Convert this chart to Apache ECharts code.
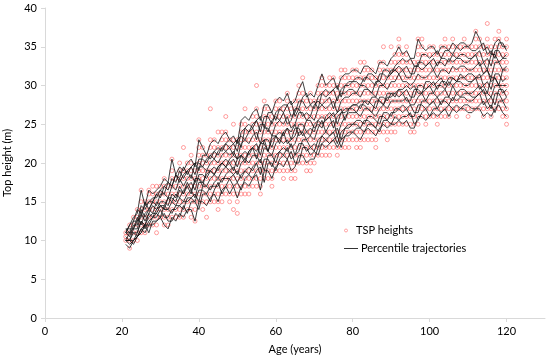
<!DOCTYPE html>
<html>
<head>
<meta charset="utf-8">
<script src="https://cdn.jsdelivr.net/npm/echarts@6/dist/echarts.min.js"></script>
<style>html,body{margin:0;padding:0;background:#fff}#c{width:550px;height:361px}</style>
</head>
<body>
<div id="c"></div>
<script>
// ---- data ----
const ages = [21,22,23,24,25,26,27,28,29,30,31,32,33,34,35,36,37,38,39,40,41,42,43,44,45,46,47,48,49,50,51,52,53,54,55,56,57,58,59,60,61,62,63,64,65,66,67,68,69,70,71,72,73,74,75,76,77,78,79,80,81,82,83,84,85,86,87,88,89,90,91,92,93,94,95,96,97,98,99,100,101,102,103,104,105,106,107,108,109,110,111,112,113,114,115,116,117,118,119,120];
const xTicks = [0,20,40,60,80,100,120];
const yTicks = [0,5,10,15,20,25,30,35,40];

// TSP heights observed at each age (same order as ages)
const tspHeights = [
[10,10.5,11],[9,10,11,12],[10,11,12,13],[10,11,12,13,14],[11,12,13,14,15,16.5],[11,12,13,14,15],[12,13,14,15,16,16.5],[12,13,14,15,16,17],[11,12,13,14,15,16,17],[13,14,15,16,17],
[12,13,14,15,16,17,18],[12,13,14,15,16,17],[13,14,15,16,17,18,19,20.5],[13,14,15,16,17,18],[13,14,15,16,17,18,19,20],[13,14,15,16,17,18,19,22],[14,15,16,17,18,19,20],[13,14,15,16,17,18,19,20,21],[12.5,14,15,16,17,18,19],[15,16,17,18,19,20,21,22,23],
[14,15,16,17,18,19,20,21,22],[13,15,16,17,18,19,20,21],[15,16,17,18,19,20,21,22,23,27],[15,16,17,18,19,20,21,22,23],[14,15,16,17,18,19,20,21,22,24],[15,16,17,18,19,20,21,22,23,24],[16,17,18,19,20,21,22,23,24,26],[15,16,17,18,19,20,21,22,23],[14,16,17,18,19,20,21,22,23,25],[13.5,15,16,17,18,19,20,21,22,23],
[16,17,18,19,20,21,22,23,24,25],[16,17,18,19,20,21,22,23,24,25,27],[16,17,18,19,20,21,22,23,24],[17,18,19,20,21,22,23,24,25,26],[17,18,19,20,21,22,23,24,25,26,27,30],[16,17,18,19,20,21,22,23,24,25],[18,19,20,21,22,23,24,25,26,27,28],[18,19,20,21,22,23,24,25,26,27],[17,18,19,20,21,22,23,24,25,26],[19,20,21,22,23,24,25,26,27,28],
[19,20,21,22,23,24,25,26,27,28],[18,19,20,21,22,23,24,25,26,27],[19,20,21,22,23,24,25,26,27,28,29],[18,19,20,21,22,23,24,25,26,27],[18,19,20,21,22,23,24,25,26,27,28],[20,21,22,23,24,25,26,27,28,29,30],[20,21,22,23,24,25,26,27,28,29,31],[19,20,21,22,23,24,25,26,27,28],[19,20,21,22,23,24,25,26,27,28,29],[20,21,22,23,24,25,26,27,28],
[21,22,23,24,25,26,27,28,29,30],[21,22,23,24,25,26,27,28,29,30,31],[21,22,23,24,25,26,27,28,29,30],[21,22,23,24,25,26,27,28,29,30,31],[22,23,24,25,26,27,28,29,30,31],[21,22,23,24,25,26,27,28,29,30],[22,23,24,25,26,27,28,29,30,31,32],[22,23,24,25,26,27,28,29,30,31,32],[22,23,24,25,26,27,28,29,30,31],[23,24,25,26,27,28,29,30,31,32],
[22,23,24,25,26,27,28,29,30,31,32],[22,23,24,25,26,27,28,29,30,31,33],[23,24,25,26,27,28,29,30,31,32,33],[23,24,25,26,27,28,29,30,31,32],[23,24,25,26,27,28,29,30,31,32],[22,23,24,25,26,27,28,29,30,31],[24,25,26,27,28,29,30,31,32,33],[24,25,26,27,28,29,30,31,32,33,35],[23,24,25,26,27,28,29,30,31,32],[24,25,26,27,28,29,30,31,32,33,35],
[24,25,26,27,28,29,30,31,32,33,34],[25,26,27,28,29,30,31,32,33,34,35,36],[25,26,27,28,29,30,31,32,33,34],[25,26,27,28,29,30,31,32,33,34,35],[24,25,26,27,28,29,30,31,32,33],[24,25,26,27,28,29,30,31,32,33],[25,26,27,28,29,30,31,32,33,34,35,36],[26,27,28,29,30,31,32,33,34,35,36],[25,26,27,28,29,30,31,32,33,34],[26,27,28,29,30,31,32,33,34,35],
[26,27,28,29,30,31,32,33,34,35],[25,26,27,28,29,30,31,32,33,34],[26,27,28,29,30,31,32,33,34,35],[26,27,28,29,30,31,32,33,34,35,36],[26,27,28,29,30,31,32,33,34,35],[27,28,29,30,31,32,33,34,35,36],[26,27,28,29,30,31,32,33,34,35],[27,28,29,30,31,32,33,34,35],[27,28,29,30,31,32,33,34,35,36],[26,27,28,29,30,31,32,33,34,35],
[27,28,29,30,31,32,33,34,35],[27,28,29,30,31,32,33,34,35,36,37],[27,28,29,30,31,32,33,34,35,36],[26,27,28,29,30,31,32,33,34,35],[27,28,29,30,31,32,33,34,35,36,38],[26,27,28,29,30,31,32,33,34,35],[27,28,29,30,31,32,33,34,35,36],[27,28,29,30,31,32,33,34,35,36,37],[26,27,28,29,30,31,32,33,34,35],[25,26,27,28,29,30,31,32,33,34,35,36]
];

// Percentile trajectories (heights at each age, same order as ages)
const traj01 = [9.5,9,10,10.5,11.5,11,12,12,12.5,13, 12,11.5,13,12.5,13.5,13,14,14,12.5,15, 15,14.5,15.5,16,15,16.5,17,16,17,15.5, 17,17.5,17,18,18.5,16.5,19,19,18,19.5, 20,19.5,20.5,19,19.5,21,21,20,20.5,20.5, 22,22.5,22,22.5,23,22,23,23.5,23.5,24, 23.5,23,24,24.5,24,23.5,24.5,25,24.5,25, 25,25.5,25,25.5,24.5,24.5,26,26,25.5,26, 26.5,26,26.5,27,26,27,26.5,27,27,26.5, 26.5,27,27,26,26.5,26,27,27.5,26.5,26];
const traj02 = [10,10,9.5,10.5,11,12,11,12.5,12.5,13, 13.5,12.5,12.5,13.5,13,14.5,13.5,15,15,14, 16,16,15,16.5,17.5,16,17,18,17,17.5, 16.5,18,18.5,18,19,19.5,17.5,20,20,19, 20.5,21,20.5,21.5,20,20,22,22,21,21.5, 21,22.5,23,22.5,23,23.5,22,23.5,24,24, 24.5,24.5,24,25,25,24.5,24,25.5,25.5,25, 26,25.5,26,26,26.5,25,25.5,26.5,27,26, 27,27,26.5,27,27.5,27,27.5,27,27.5,27.5, 27,27,27.5,28,27,27.5,26.5,28,28,27];
const traj03 = [10,9.5,10,11,12.5,11.5,12.5,13,13,14, 13,13,14,14,14.5,14,15.5,15.5,15,16.5, 16.5,16,17,17,17,18,18,18,18.5,17.5, 18.5,19,18.5,19.5,20,18.5,20.5,20.5,19.5,21, 21.5,21,22,20.5,21,22.5,22.5,21.5,22,21.5, 23,23.5,23,23.5,24,22.5,24,24.5,24.5,25, 25,24.5,25.5,25.5,25,24.5,26,26,25.5,26.5, 26.5,27,26.5,27,26,26,27.5,27.5,27,27.5, 28,27,28,28,27.5,28.5,28,28.5,28.5,28, 28,28.5,29,27.5,28,27,29,29,28,28.5];
const traj04 = [10,10,10,10.5,11,12,12,13,13.5,13, 14.5,14,13.5,14.5,14.5,15,15,15.5,16,15, 17,17,16.5,17.5,18,17.5,18.5,19,18.5,19, 18,19,19.5,19,20,20.5,19,21,21,20, 21.5,22,21.5,22.5,21,21.5,23,23,22,22.5, 22,23.5,24,23.5,24,24.5,23,24.5,25,25, 25.5,25.5,25,26,26,25.5,25,26.5,26.5,26, 27,27,27.5,27,27.5,26.5,26.5,28,28,27.5, 28,28.5,27.5,28.5,28.5,28,29,28.5,29,29, 28.5,28.5,29,29.5,28,28.5,27.5,29.5,29.5,28.5];
const traj05 = [10,10,11,11,12.5,12,13,13.5,13.5,14.5, 14,14,15,14.5,15.5,15,16,16.5,15.5,17.5, 17.5,17,18,18.5,18,19,19.5,19,19.5,18.5, 20,20.5,20,21,21,20,22,21.5,21,22.5, 23,22.5,23,22,22.5,24,24,23,23.5,23, 24.5,25.5,24,25,25.5,23.5,25,26,26.5,26.5, 26.5,26,27,27,26.5,26,27,27.5,27,28, 28,28,28,28.5,27.5,27.5,28.5,29,28,29, 29,28.5,29,29.5,28.5,30,29,29.5,29.5,29, 29,29.5,30,29,29,28.5,30,30,29,29.5];
const traj06 = [10,11,11.5,13,12,13.5,14,13.5,15,14.5, 14,15.5,15,16,15.5,16.5,17,16,18,18, 17.5,18.5,19,18.5,19.5,20,19.5,20,19,20.5, 21,20.5,21.5,22,20.5,22.5,22.5,21.5,23,23.5, 23,24,22.5,23,24.5,24.5,23.5,24,23.5,25, 25.5,25,25.5,26,24.5,26,26.5,26.5,27,27, 26.5,27.5,27.5,27,26.5,28,28,27.5,28.5,28.5, 29,28.5,29,28,28,29.5,29.5,29,29.5,30, 29,30,30,29.5,30.5,30,30.5,30.5,30,30, 30.5,31,29.5,30,29,31,31,30,30,30];
const traj07 = [10.5,10,11.5,11.5,13.5,12.5,13.5,14.5,14,15, 15,14.5,16,15.5,17,16,17,17.5,16.5,18.5, 18.5,18,19,19.5,19,20,20.5,20,20.5,19.5, 21,21.5,21,22,22.5,21,23,23,22,23.5, 24,23.5,24.5,23,23.5,25,25,24,24.5,24, 25.5,26,25.5,26,26.5,25,26.5,27,27,27.5, 27.5,27,28,28,27.5,27,28.5,28.5,28,29, 29,29.5,29,29.5,28.5,28.5,30,30,29.5,30, 30.5,29.5,30.5,30.5,30,31,30.5,31,31,30.5, 30.5,31,31.5,30,30.5,29.5,31.5,31.5,30.5,31];
const traj08 = [11,11,11,10.5,11.5,12,13.5,13,14,14.5, 14.5,15.5,15.5,15,16.5,16,17.5,16.5,17.5,18, 17,19,19,18.5,19.5,20,19.5,20.5,21,20.5, 21,20,21.5,22,21.5,22.5,23,21.5,23.5,23.5, 22.5,24,24.5,24,25,23.5,24,25.5,25.5,24.5, 25,24.5,26,26.5,26,26.5,27,25.5,27,27.5, 27.5,28,28,27.5,28.5,28.5,28,27.5,29,29, 28.5,29.5,29.5,30,29.5,30,29,29,30.5,30.5, 30,30.5,31,30,31,31,30.5,31.5,31,31.5, 31.5,31,31,31.5,32,30.5,31,30,32,32];
const traj09 = [11,10.5,12,12,14,13,14,15,14.5,16, 16,15.5,17,16.5,18,17,18,18.5,17.5,19.5, 19.5,19,20,20.5,20,21,21.5,21,21.5,20.5, 22.5,23,22.5,23.5,24,22.5,24.5,24.5,23.5,25, 25.5,25,26,24.5,25,26.5,26.5,25.5,26,25.5, 27,27.5,27,27.5,28,26.5,28,28.5,28.5,29, 29,28.5,29.5,29.5,29,28.5,30,30,29.5,30.5, 30.5,31.5,30.5,30.5,30,30.5,31.5,31,31,31.5, 32,31,32,32,31.5,32.5,32,32.5,32.5,32, 32,32.5,33,31.5,32,31,33,33,32,32.5];
const traj10 = [11,12,12.5,14,13.5,14.5,15,15,16,16.5, 16,17.5,17,18.5,17.5,18.5,19,18,20,20, 19.5,20.5,21,20.5,21.5,22,21.5,22,21,23, 23.5,23,24,24.5,23,25,25,24,25.5,26, 25.5,26.5,25,25.5,27,27,26,26.5,26,27.5, 28,27.5,28,28.5,27,28.5,29,29,29.5,29.5, 29,30,30,29.5,29,30.5,30.5,30,31,31.5, 32,31.5,32,31,31,32.5,32.5,32,32.5,33, 32,33,33,32.5,33.5,33,33.5,33.5,33,33, 33.5,34,32.5,33,32,34,34,33,33.5,33.5];
const traj11 = [11.5,11,12.5,12.5,14.5,14,15,15.5,15.5,16.5, 17,16.5,18,17.5,19,18,19,19.5,18.5,20.5, 20.5,20,21,21.5,21,22,22.5,22,22.5,21.5, 24,24.5,24,25,25.5,24,26,26,25,26.5, 27,26.5,27.5,26,26.5,28,28,27,27.5,27, 28.5,29,28.5,29,29.5,28,29.5,30,30,30.5, 30.5,30,31,31,30.5,30,31.5,31.5,31,32, 32,32.5,32,32.5,31.5,31.5,33,33,32.5,33, 33.5,32.5,33.5,33.5,33,34,33.5,34,34,33.5, 33.5,34,34.5,33,33.5,32.5,34.5,34.5,33.5,34];
const traj12 = [11.5,11.5,11.5,12.5,13,15,14,15,16,15.5, 17,17.5,17,18.5,18,19.5,18.5,19.5,20,19, 21,21,20.5,21.5,22,21.5,22.5,23,22.5,23, 22,24.5,25,24.5,25.5,26,24.5,26.5,26.5,25.5, 27,27.5,27.5,28,26,27,28.5,29,27.5,28, 27,29,29.5,29,29.5,30,28.5,30,30.5,30.5, 31,31,30.5,31.5,31.5,31,30.5,32,32,31.5, 32.5,33,33.5,33,33.5,32.5,32.5,34,34,33.5, 34,34.5,33.5,34.5,34.5,34,35,34.5,35,35, 34.5,34.5,35,35.5,34,34.5,33.5,35.5,35.5,34.5];
const traj13 = [11,12,13,13.5,16.5,14.5,16.5,16,16.5,17, 18,17.5,20.5,18.5,19.5,19,20,20.5,19.5,23, 22,21,22.5,23,22.5,23.5,24,23,23.5,22.5, 25.5,26,25.5,26.5,27,25.5,27.5,27.5,26.5,28, 28.5,28,29,27.5,28,29.5,30.5,28.5,29,28.5, 30,31.5,30,30.5,31,29.5,31,31.5,31.5,32, 32,31.5,32.5,32.5,32,31.5,33,33,32.5,33.5, 34,35,34,34.5,33.5,33.5,36,35,34.5,35, 35,34,35,35,34.5,35.5,35,35.5,35.5,35, 35.5,37,36,34.5,35,34,35.5,36,35,35];
const trajectories = [traj01,traj02,traj03,traj04,traj05,traj06,traj07,traj08,traj09,traj10,traj11,traj12,traj13];

// ---- chart ----
const FONT = 'Lato, "Open Sans", sans-serif';
const chart = echarts.init(document.getElementById('c'), null, {renderer: 'canvas'});

const scatterData = [];
ages.forEach((a, i) => tspHeights[i].forEach(h => scatterData.push([a, h])));

const series = [{
  type: 'scatter',
  name: 'TSP heights',
  data: scatterData,
  symbol: 'circle',
  symbolSize: 4,
  itemStyle: {color: 'rgba(255,255,255,0)', borderColor: 'rgba(255,40,40,0.55)', borderWidth: 1},
  z: 2,
  silent: true
}];
trajectories.forEach(t => {
  series.push({
    type: 'line',
    name: 'Percentile trajectories',
    data: ages.map((a, i) => [a, t[i]]),
    symbol: 'none',
    showSymbol: false,
    lineStyle: {color: '#111', width: 1, opacity: 0.8},
    itemStyle: {color: '#111'},
    z: 3,
    silent: true
  });
});

chart.setOption({
  animation: false,
  backgroundColor: '#fff',
  grid: {left: 45, right: 5, top: 8, bottom: 43, containLabel: false, outerBoundsMode: 'none'},
  xAxis: {
    type: 'value', min: 0, max: 130, interval: 20,
    name: 'Age (years)', nameLocation: 'middle', nameGap: 26,
    nameTextStyle: {fontFamily: FONT, fontSize: 11, color: '#000'},
    axisLine: {show: true, lineStyle: {color: '#d9d9d9', width: 1}},
    axisTick: {show: true, length: 4, lineStyle: {color: '#d9d9d9'}},
    axisLabel: {fontFamily: FONT, fontSize: 11, color: '#000', margin: 8, showMaxLabel: false,
      formatter: v => xTicks.indexOf(v) >= 0 ? String(v) : ''},
    splitLine: {show: false}
  },
  yAxis: {
    type: 'value', min: 0, max: 40, interval: 5,
    name: 'Top height (m)', nameLocation: 'middle', nameGap: 30, nameRotate: 90,
    nameTextStyle: {fontFamily: FONT, fontSize: 11, color: '#000'},
    axisLine: {show: true, lineStyle: {color: '#d9d9d9', width: 1}},
    axisTick: {show: true, length: 4, lineStyle: {color: '#d9d9d9'}},
    axisLabel: {fontFamily: FONT, fontSize: 11, color: '#000', margin: 8,
      formatter: v => yTicks.indexOf(v) >= 0 ? String(v) : ''},
    splitLine: {show: false}
  },
  legend: [{
    data: [{name: 'TSP heights', icon: 'circle',
      itemStyle: {color: 'rgba(255,255,255,0)', borderColor: 'rgba(255,40,40,0.5)', borderWidth: 1}}],
    left: 339, top: 220, orient: 'vertical',
    itemWidth: 14, itemHeight: 3, itemGap: 4,
    selectedMode: false,
    textStyle: {fontFamily: FONT, fontSize: 11, color: '#000', padding: [0, 0, 0, -2]}
  }, {
    data: [{name: 'Percentile trajectories', icon: 'rect',
      itemStyle: {color: '#333', borderWidth: 0}}],
    left: 339, top: 238, orient: 'vertical',
    itemWidth: 14, itemHeight: 1, itemGap: 4,
    selectedMode: false,
    textStyle: {fontFamily: FONT, fontSize: 11, color: '#000', padding: [0, 0, 0, -2]}
  }],
  series: series
});
</script>
</body>
</html>
